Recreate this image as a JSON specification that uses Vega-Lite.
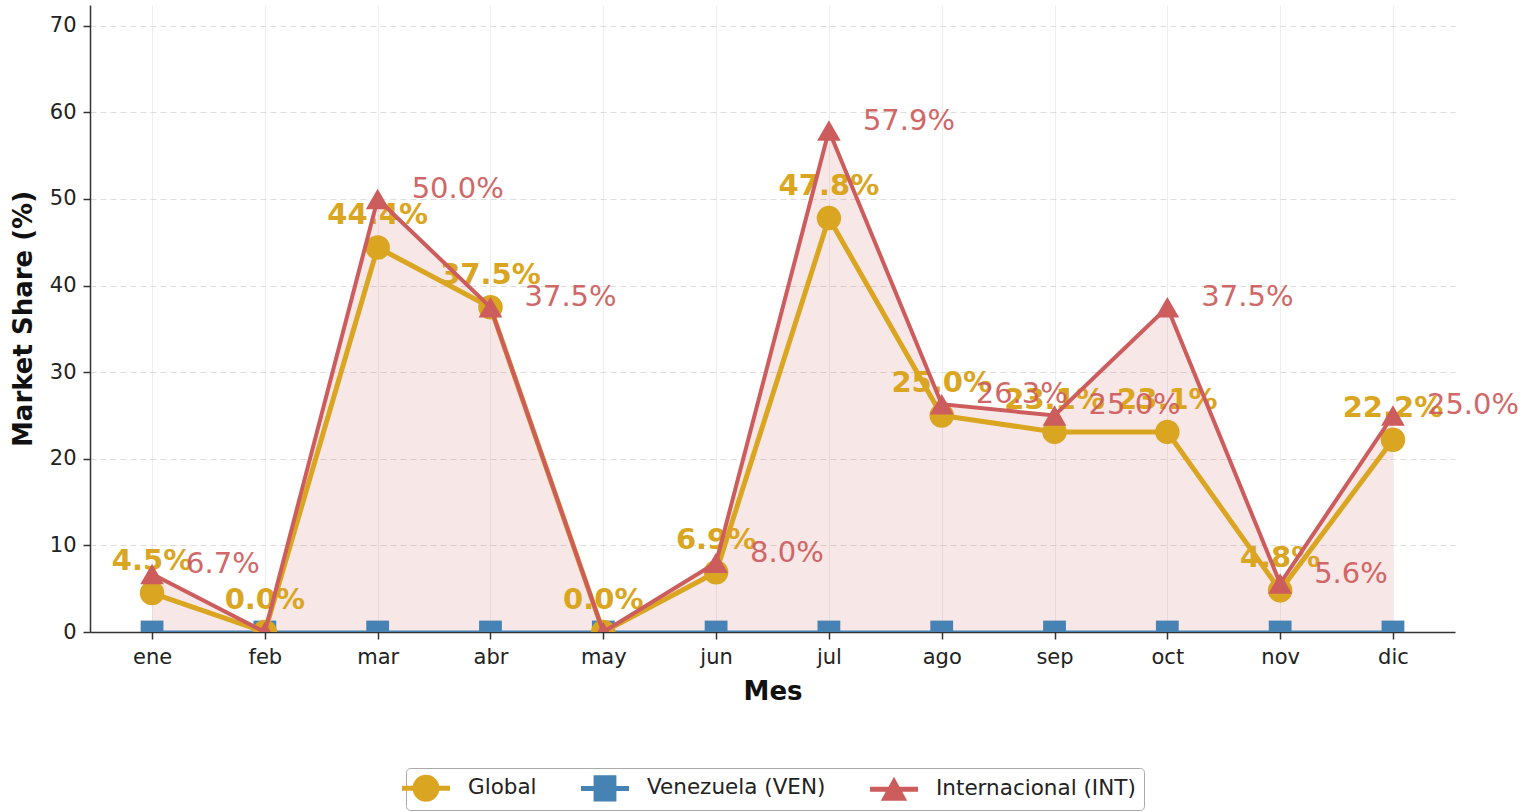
{
  "$schema": "https://vega.github.io/schema/vega-lite/v6.json",
  "width": 1365,
  "height": 627,
  "autosize": {"type": "none"},
  "padding": {"left": 90, "top": 5, "right": 75, "bottom": 180},
  "background": "white",
  "config": {
    "view": {"stroke": null},
    "font": "DejaVu Sans",
    "legend": {
      "labelFont": "DejaVu Sans",
      "labelFontSize": 21.5,
      "labelColor": "#222222",
      "symbolSize": 576,
      "symbolStrokeWidth": 0,
      "labelOffset": 30,
      "columnPadding": 44,
      "padding": 8,
      "strokeColor": "#aaaaaa",
      "fillColor": "white",
      "cornerRadius": 4,
      "labelLimit": 400
    }
  },
  "data": {
    "values": [
      {"mes": "ene", "serie": "Global", "valor": 4.5, "etiqueta": "4.5%"},
      {"mes": "feb", "serie": "Global", "valor": 0.0, "etiqueta": "0.0%"},
      {"mes": "mar", "serie": "Global", "valor": 44.4, "etiqueta": "44.4%"},
      {"mes": "abr", "serie": "Global", "valor": 37.5, "etiqueta": "37.5%"},
      {"mes": "may", "serie": "Global", "valor": 0.0, "etiqueta": "0.0%"},
      {"mes": "jun", "serie": "Global", "valor": 6.9, "etiqueta": "6.9%"},
      {"mes": "jul", "serie": "Global", "valor": 47.8, "etiqueta": "47.8%"},
      {"mes": "ago", "serie": "Global", "valor": 25.0, "etiqueta": "25.0%"},
      {"mes": "sep", "serie": "Global", "valor": 23.1, "etiqueta": "23.1%"},
      {"mes": "oct", "serie": "Global", "valor": 23.1, "etiqueta": "23.1%"},
      {"mes": "nov", "serie": "Global", "valor": 4.8, "etiqueta": "4.8%"},
      {"mes": "dic", "serie": "Global", "valor": 22.2, "etiqueta": "22.2%"},
      {"mes": "ene", "serie": "Venezuela (VEN)", "valor": 0, "etiqueta": "0.0%"},
      {"mes": "feb", "serie": "Venezuela (VEN)", "valor": 0, "etiqueta": "0.0%"},
      {"mes": "mar", "serie": "Venezuela (VEN)", "valor": 0, "etiqueta": "0.0%"},
      {"mes": "abr", "serie": "Venezuela (VEN)", "valor": 0, "etiqueta": "0.0%"},
      {"mes": "may", "serie": "Venezuela (VEN)", "valor": 0, "etiqueta": "0.0%"},
      {"mes": "jun", "serie": "Venezuela (VEN)", "valor": 0, "etiqueta": "0.0%"},
      {"mes": "jul", "serie": "Venezuela (VEN)", "valor": 0, "etiqueta": "0.0%"},
      {"mes": "ago", "serie": "Venezuela (VEN)", "valor": 0, "etiqueta": "0.0%"},
      {"mes": "sep", "serie": "Venezuela (VEN)", "valor": 0, "etiqueta": "0.0%"},
      {"mes": "oct", "serie": "Venezuela (VEN)", "valor": 0, "etiqueta": "0.0%"},
      {"mes": "nov", "serie": "Venezuela (VEN)", "valor": 0, "etiqueta": "0.0%"},
      {"mes": "dic", "serie": "Venezuela (VEN)", "valor": 0, "etiqueta": "0.0%"},
      {"mes": "ene", "serie": "Internacional (INT)", "valor": 6.7, "etiqueta": "6.7%"},
      {"mes": "feb", "serie": "Internacional (INT)", "valor": 0.0, "etiqueta": "0.0%"},
      {"mes": "mar", "serie": "Internacional (INT)", "valor": 50.0, "etiqueta": "50.0%"},
      {"mes": "abr", "serie": "Internacional (INT)", "valor": 37.5, "etiqueta": "37.5%"},
      {"mes": "may", "serie": "Internacional (INT)", "valor": 0.0, "etiqueta": "0.0%"},
      {"mes": "jun", "serie": "Internacional (INT)", "valor": 8.0, "etiqueta": "8.0%"},
      {"mes": "jul", "serie": "Internacional (INT)", "valor": 57.9, "etiqueta": "57.9%"},
      {"mes": "ago", "serie": "Internacional (INT)", "valor": 26.3, "etiqueta": "26.3%"},
      {"mes": "sep", "serie": "Internacional (INT)", "valor": 25.0, "etiqueta": "25.0%"},
      {"mes": "oct", "serie": "Internacional (INT)", "valor": 37.5, "etiqueta": "37.5%"},
      {"mes": "nov", "serie": "Internacional (INT)", "valor": 5.6, "etiqueta": "5.6%"},
      {"mes": "dic", "serie": "Internacional (INT)", "valor": 25.0, "etiqueta": "25.0%"}
    ]
  },
  "encoding": {
    "x": {
      "field": "mes",
      "type": "ordinal",
      "sort": ["ene", "feb", "mar", "abr", "may", "jun", "jul", "ago", "sep", "oct", "nov", "dic"],
      "scale": {"type": "point", "padding": 0.55},
      "axis": {
        "title": "Mes",
        "titleFontSize": 26,
        "titleFontWeight": "bold",
        "titleColor": "#111111",
        "titlePadding": 11,
        "labelFontSize": 21,
        "labelColor": "#222222",
        "labelAngle": 0,
        "labelPadding": 7,
        "tickSize": 7,
        "tickWidth": 1.5,
        "tickColor": "#333333",
        "domainColor": "#333333",
        "domainWidth": 1.5,
        "grid": true,
        "gridColor": "#eeeeee",
        "gridWidth": 1
      }
    },
    "y": {
      "field": "valor",
      "type": "quantitative",
      "scale": {"domain": [0, 72.4], "nice": false, "zero": true},
      "axis": {
        "title": "Market Share (%)",
        "titleFontSize": 26,
        "titleFontWeight": "bold",
        "titleColor": "#111111",
        "titlePadding": 13,
        "values": [0, 10, 20, 30, 40, 50, 60, 70],
        "labelFontSize": 21,
        "labelColor": "#222222",
        "labelPadding": 7,
        "tickSize": 7,
        "tickWidth": 1.5,
        "tickColor": "#333333",
        "domainColor": "#333333",
        "domainWidth": 1.5,
        "grid": true,
        "gridColor": "#dddddd",
        "gridDash": [6, 4],
        "gridWidth": 1
      }
    }
  },
  "layer": [
    {
      "transform": [{"filter": "datum.serie === 'Internacional (INT)'"}],
      "mark": {"type": "area", "color": "#CD5C5C", "opacity": 0.15, "clip": true}
    },
    {
      "transform": [{"filter": "datum.serie === 'Venezuela (VEN)'"}],
      "mark": {"type": "line", "strokeWidth": 3, "clip": true},
      "encoding": {
        "color": {"field": "serie", "type": "nominal", "title": null,
          "scale": {"domain": ["Global", "Venezuela (VEN)", "Internacional (INT)"], "range": ["#DAA520", "#4682B4", "#CD5C5C"]}}
      }
    },
    {
      "transform": [{"filter": "datum.serie === 'Venezuela (VEN)'"}],
      "mark": {"type": "point", "shape": "square", "filled": true, "size": 520, "opacity": 1, "clip": true},
      "encoding": {
        "color": {"field": "serie", "type": "nominal", "title": null,
          "scale": {"domain": ["Global", "Venezuela (VEN)", "Internacional (INT)"], "range": ["#DAA520", "#4682B4", "#CD5C5C"]}}
      }
    },
    {
      "transform": [{"filter": "datum.serie === 'Global'"}],
      "mark": {"type": "line", "strokeWidth": 5, "clip": true},
      "encoding": {
        "color": {"field": "serie", "type": "nominal", "title": null,
          "scale": {"domain": ["Global", "Venezuela (VEN)", "Internacional (INT)"], "range": ["#DAA520", "#4682B4", "#CD5C5C"]}}
      }
    },
    {
      "transform": [{"filter": "datum.serie === 'Global'"}],
      "mark": {"type": "point", "shape": "circle", "filled": true, "size": 600, "opacity": 1, "clip": true},
      "encoding": {
        "color": {"field": "serie", "type": "nominal", "title": null,
          "scale": {"domain": ["Global", "Venezuela (VEN)", "Internacional (INT)"], "range": ["#DAA520", "#4682B4", "#CD5C5C"]}}
      }
    },
    {
      "transform": [{"filter": "datum.serie === 'Global'"}],
      "mark": {"type": "text", "fontSize": 29, "fontWeight": "bold", "color": "#DAA520", "align": "center", "baseline": "middle", "dy": -32},
      "encoding": {"text": {"field": "etiqueta", "type": "nominal"}}
    },
    {
      "transform": [{"filter": "datum.serie === 'Internacional (INT)'"}],
      "mark": {"type": "line", "strokeWidth": 4, "clip": true},
      "encoding": {
        "color": {"field": "serie", "type": "nominal", "title": null,
          "scale": {"domain": ["Global", "Venezuela (VEN)", "Internacional (INT)"], "range": ["#DAA520", "#4682B4", "#CD5C5C"]}}
      }
    },
    {
      "transform": [{"filter": "datum.serie === 'Internacional (INT)'"}],
      "mark": {"type": "point", "shape": "triangle-up", "filled": true, "size": 560, "opacity": 1, "clip": true},
      "encoding": {
        "color": {"field": "serie", "type": "nominal", "title": null,
          "scale": {"domain": ["Global", "Venezuela (VEN)", "Internacional (INT)"], "range": ["#DAA520", "#4682B4", "#CD5C5C"]}}
      }
    },
    {
      "transform": [{"filter": "datum.serie === 'Internacional (INT)' && datum.valor > 0"}],
      "mark": {"type": "text", "fontSize": 29, "color": "#CD5C5C", "opacity": 0.92, "align": "left", "baseline": "middle", "dx": 34, "dy": -10},
      "encoding": {"text": {"field": "etiqueta", "type": "nominal"}}
    },
    {
      "transform": [{"filter": "datum.valor < -1"}],
      "mark": {"type": "point", "filled": true},
      "encoding": {
        "color": {"field": "serie", "type": "nominal", "title": null,
          "scale": {"domain": ["Global", "Venezuela (VEN)", "Internacional (INT)"], "range": ["#DAA520", "#4682B4", "#CD5C5C"]},
          "legend": {"orient": "none", "legendX": 316, "legendY": 763, "direction": "horizontal", "symbolOpacity": 1}},
        "shape": {"field": "serie", "type": "nominal", "title": null,
          "scale": {"domain": ["Global", "Venezuela (VEN)", "Internacional (INT)"],
            "range": [
              "M -2,-0.21 L 2,-0.21 L 2,0.21 L -2,0.21 Z M -1.12,0 A 1.12,1.12 0 1 1 1.12,0 A 1.12,1.12 0 1 1 -1.12,0 Z",
              "M -2,-0.21 L 2,-0.21 L 2,0.21 L -2,0.21 Z M -0.95,-1.1 L 0.95,-1.1 L 0.95,1.1 L -0.95,1.1 Z",
              "M -2,-0.21 L 2,-0.21 L 2,0.21 L -2,0.21 Z M 0,-1.05 L 1.1,0.95 L -1.1,0.95 Z"
            ]},
          "legend": {"orient": "none", "legendX": 316, "legendY": 763, "direction": "horizontal", "symbolOpacity": 1}}
      }
    }
  ]
}
